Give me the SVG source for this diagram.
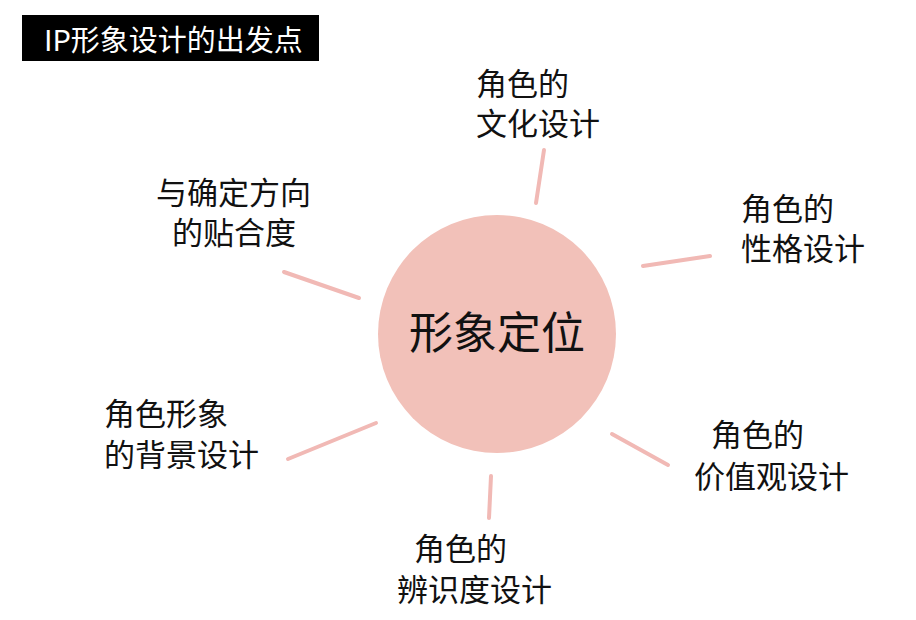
<svg xmlns="http://www.w3.org/2000/svg" width="916" height="620" viewBox="0 0 916 620">
<style>
.lbl{font-family:"Noto Sans CJK SC","Noto Sans",sans-serif;font-size:31px;fill:#111}
.conn line{stroke:#f1b9b5;stroke-width:4;stroke-linecap:round}
</style>
<rect width="916" height="620" fill="#fff"/>
<g id="title">
<rect x="22" y="15" width="297" height="46" fill="#000"/>
<text x="44" y="51" font-family="'Noto Sans CJK SC','Noto Sans',sans-serif" font-size="29" fill="#fff">IP形象设计的出发点</text>
</g>
<g class="conn" id="connectors">
<line x1="544" y1="150" x2="536" y2="203"/>
<line x1="643" y1="266" x2="710" y2="256"/>
<line x1="284" y1="272" x2="359" y2="298"/>
<line x1="376" y1="423" x2="288" y2="459"/>
<line x1="612" y1="434" x2="668" y2="465"/>
<line x1="491" y1="476" x2="489" y2="518"/>
</g>
<g id="center">
<circle cx="497" cy="334" r="119" fill="#f2c1b9"/>
<text x="497" y="349" text-anchor="middle" font-family="'Noto Sans CJK SC','Noto Sans',sans-serif" font-size="44" fill="#111">形象定位</text>
</g>
<g id="n-culture">
<text class="lbl" x="476" y="95">角色的</text>
<text class="lbl" x="476" y="135">文化设计</text>
</g>
<g id="n-personality">
<text class="lbl" x="741" y="220">角色的</text>
<text class="lbl" x="741" y="260">性格设计</text>
</g>
<g id="n-direction">
<text class="lbl" x="156" y="204">与确定方向</text>
<text class="lbl" x="172" y="244">的贴合度</text>
</g>
<g id="n-background">
<text class="lbl" x="104" y="425">角色形象</text>
<text class="lbl" x="104" y="466">的背景设计</text>
</g>
<g id="n-values">
<text class="lbl" x="711" y="446">角色的</text>
<text class="lbl" x="694" y="488">价值观设计</text>
</g>
<g id="n-recognition">
<text class="lbl" x="414" y="560">角色的</text>
<text class="lbl" x="397" y="601">辨识度设计</text>
</g>
</svg>
